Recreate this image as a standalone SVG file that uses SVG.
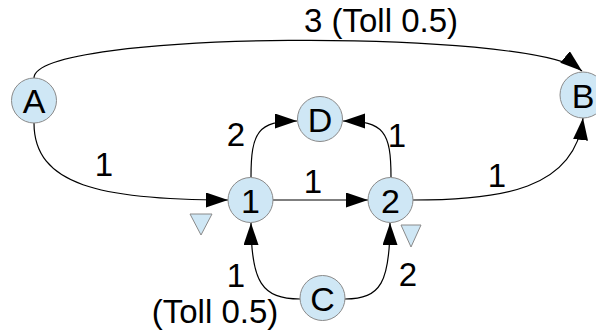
<svg xmlns="http://www.w3.org/2000/svg" width="596" height="336" viewBox="0 0 596 336">
<style>
.node circle{fill:#cfe7f5;stroke:#8a8a8a;stroke-width:1}
.node text{font-family:"Liberation Sans",Arial,sans-serif;font-size:34px;fill:#000;text-anchor:middle}
.lbl{font-family:"Liberation Sans",Arial,sans-serif;font-size:33px;fill:#000;text-anchor:middle}
.edge{fill:none;stroke:#000;stroke-width:1.2;marker-end:url(#arr)}
.tri{fill:#cfe7f5;stroke:#8a8a8a;stroke-width:1}
</style>
<defs>
<marker id="arr" markerUnits="userSpaceOnUse" markerWidth="23" markerHeight="16" refX="22" refY="7.5" orient="auto">
<path d="M0,0 L22,7.5 L0,15 z" fill="#000"/>
</marker>
</defs>
<rect width="596" height="336" fill="#fff"/>
<g id="connectors">
<path class="edge" d="M34,78 C34,30 530,28 582,71"/>
<path class="edge" d="M34,123 C34,185 100,200 228,200"/>
<path class="edge" d="M273,200 L368,200"/>
<path class="edge" d="M251,177 C251,132 258,121 297,121"/>
<path class="edge" d="M391,177 C391,132 384,121 343,121"/>
<path class="edge" d="M413,200 C500,200 575,190 583,118"/>
<path class="edge" d="M300,299 C262,299 251,282 251,223"/>
<path class="edge" d="M345,299 C381,299 390,282 390,223"/>
</g>
<g id="labels">
<text class="lbl" x="381" y="32">3 (Toll 0.5)</text>
<text class="lbl" x="104" y="176">1</text>
<text class="lbl" x="313" y="193">1</text>
<text class="lbl" x="236" y="146">2</text>
<text class="lbl" x="397" y="147">1</text>
<text class="lbl" x="497" y="187">1</text>
<text class="lbl" x="236" y="287">1</text>
<text class="lbl" x="215" y="323">(Toll 0.5)</text>
<text class="lbl" x="408" y="286">2</text>
</g>
<g id="markers">
<polygon class="tri" points="190,214 212,214 201,235"/>
<polygon class="tri" points="401,225 421,225 411,247"/>
</g>
<g id="node-A" class="node"><circle cx="34" cy="100.5" r="22.5"/><text x="34" y="113">A</text></g>
<g id="node-B" class="node"><circle cx="583" cy="95" r="23"/><text x="583" y="107.5">B</text></g>
<g id="node-D" class="node"><circle cx="320" cy="119" r="22.5"/><text x="320" y="131.5">D</text></g>
<g id="node-1" class="node"><circle cx="250.5" cy="200" r="22.5"/><text x="250.5" y="212.5">1</text></g>
<g id="node-2" class="node"><circle cx="390.5" cy="200" r="22.5"/><text x="390.5" y="212.5">2</text></g>
<g id="node-C" class="node"><circle cx="322.5" cy="298" r="22.5"/><text x="322.5" y="310.5">C</text></g>
</svg>
